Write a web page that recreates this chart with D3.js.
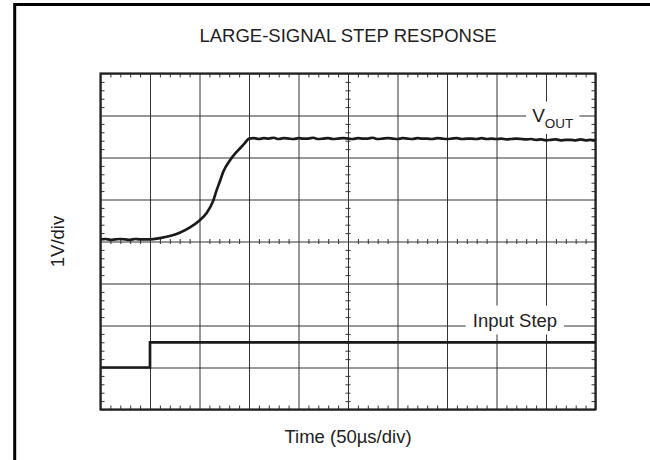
<!DOCTYPE html>
<html>
<head>
<meta charset="utf-8">
<script src="https://cdn.jsdelivr.net/npm/d3@7/dist/d3.min.js"></script>
<style>
  html, body { margin: 0; padding: 0; background: #fff; }
  svg { display: block; }
  text { font-family: "Liberation Sans", Arial, Helvetica, sans-serif; fill: #222; }
</style>
</head>
<body>
<svg id="chart" width="650" height="460"></svg>
<script>
// Text
const chartTitle = "LARGE-SIGNAL STEP RESPONSE";
const xAxisLabel = "Time (50\u00b5s/div)";
const yAxisLabel = "1V/div";
const voutMain = "V";
const voutSub = "OUT";
const inputLabel = "Input Step";

// Scope screen: 10 x 8 divisions, 50 us/div horizontally, 1 V/div vertically
const timeDivisions = [0, 50, 100, 150, 200, 250, 300, 350, 400, 450, 500];
const voltDivisions = [-4, -3, -2, -1, 0, 1, 2, 3, 4];

// VOUT trace (us, V)
const voutTime = [
  0, 5, 10, 15, 20, 25, 30, 35, 40, 45,
  50, 60, 70, 80, 90, 100, 107, 114, 117, 121, 124, 131, 137, 141, 146, 150,
  155, 160, 165, 170, 175, 180, 185, 190, 195, 200,
  205, 210, 215, 220, 225, 230, 235, 240, 245, 250,
  255, 260, 265, 270, 275, 280, 285, 290, 295, 300,
  305, 310, 315, 320, 325, 330, 335, 340, 345, 350,
  355, 360, 365, 370, 375, 380, 385, 390, 395, 400,
  405, 410, 415, 420, 425, 430, 435, 440, 445, 450,
  455, 460, 465, 470, 475, 480, 485, 490, 495, 500
];
const voutVolts = [
  0.05, 0.06, 0.04, 0.05, 0.06, 0.05, 0.04, 0.06, 0.05, 0.05,
  0.05, 0.08, 0.13, 0.21, 0.33, 0.50, 0.67, 0.98, 1.20, 1.46, 1.66, 1.94, 2.12, 2.22, 2.35, 2.45,
  2.46, 2.44, 2.46, 2.45, 2.47, 2.44, 2.46, 2.45, 2.44, 2.46,
  2.45, 2.45, 2.47, 2.44, 2.45, 2.46, 2.44, 2.45, 2.46, 2.45,
  2.44, 2.46, 2.45, 2.45, 2.47, 2.44, 2.45, 2.46, 2.45, 2.44,
  2.46, 2.45, 2.44, 2.46, 2.45, 2.45, 2.44, 2.46, 2.45, 2.44,
  2.45, 2.46, 2.44, 2.45, 2.45, 2.44, 2.46, 2.44, 2.45, 2.44,
  2.45, 2.43, 2.44, 2.45, 2.44, 2.43, 2.44, 2.42, 2.43, 2.41,
  2.42, 2.43, 2.41, 2.42, 2.42, 2.41, 2.43, 2.41, 2.42, 2.41
];

// Input step trace (us, V)
const inputTime = [0, 50, 50, 500];
const inputVolts = [-3.0, -3.0, -2.4, -2.4];

// Layout
const plot = { left: 100.5, top: 73.5, width: 495, height: 336 };

const svg = d3.select("#chart");
svg.append("rect").attr("width", 650).attr("height", 460).attr("fill", "#fff");

// Outer frame (top and left edges)
svg.append("path")
  .attr("d", "M14.7,460 V4.6 H650")
  .attr("fill", "none")
  .attr("stroke", "#000")
  .attr("stroke-width", 3);

const x = d3.scaleLinear().domain([0, 500]).range([0, plot.width]);
const y = d3.scaleLinear().domain([-4, 4]).range([plot.height, 0]);

const g = svg.append("g").attr("transform", `translate(${plot.left},${plot.top})`);

// Minor positions: five per division
const minorTimes = d3.range(0, 501, 10).filter(t => t % 50 !== 0);
const minorVolts = d3.range(-40, 41, 2).map(v => v / 10).filter(v => Math.abs(v % 1) > 1e-6);

function clean(sel) {
  sel.select(".domain").remove();
  sel.selectAll(".tick line").attr("stroke", "#333").attr("stroke-width", 1);
  sel.selectAll(".tick text").remove();
}

// Major grid
g.append("g")
  .attr("transform", `translate(0,${plot.height})`)
  .call(d3.axisBottom(x).tickValues(timeDivisions).tickSize(-plot.height).tickFormat(""))
  .call(clean);
g.append("g")
  .call(d3.axisLeft(y).tickValues(voltDivisions).tickSize(-plot.width).tickFormat(""))
  .call(clean);

// Minor ticks on the frame edges, pointing inward
g.append("g")
  .call(d3.axisTop(x).tickValues(minorTimes).tickSize(-4).tickFormat(""))
  .call(clean);
g.append("g")
  .attr("transform", `translate(0,${plot.height})`)
  .call(d3.axisBottom(x).tickValues(minorTimes).tickSize(-4).tickFormat(""))
  .call(clean);
g.append("g")
  .call(d3.axisLeft(y).tickValues(minorVolts).tickSize(-4).tickFormat(""))
  .call(clean);
g.append("g")
  .attr("transform", `translate(${plot.width},0)`)
  .call(d3.axisRight(y).tickValues(minorVolts).tickSize(-4).tickFormat(""))
  .call(clean);

// Minor ticks crossing the centre lines
g.append("g")
  .attr("transform", `translate(0,${y(0) + 2.5})`)
  .call(d3.axisBottom(x).tickValues(minorTimes).tickSize(-5).tickFormat(""))
  .call(clean);
g.append("g")
  .attr("transform", `translate(${x(250) - 2.5},0)`)
  .call(d3.axisRight(y).tickValues(minorVolts).tickSize(5).tickFormat(""))
  .call(clean);

// Screen border
g.append("rect")
  .attr("width", plot.width).attr("height", plot.height)
  .attr("fill", "none").attr("stroke", "#222").attr("stroke-width", 2.2);

// Trace labels with a white knock-out behind them
function knockoutLabel(build, padX, padY) {
  const lg = g.append("g");
  const bg = lg.append("rect").attr("fill", "#fff");
  const t = build(lg);
  const b = t.node().getBBox();
  bg.attr("x", b.x - padX).attr("y", b.y - padY)
    .attr("width", b.width + 2 * padX).attr("height", b.height + 2 * padY);
  return lg;
}

knockoutLabel(lg => {
  const t = lg.append("text")
    .attr("x", x(435) + 1).attr("y", y(3) + 6)
    .style("font-size", "19px");
  t.append("tspan").text(voutMain);
  t.append("tspan").attr("dy", 6.5).style("font-size", "13.5px").text(voutSub);
  return t;
}, 6, 3);

knockoutLabel(lg => lg.append("text")
  .attr("x", x(375) + 1).attr("y", y(-2) + 1)
  .style("font-size", "18.5px")
  .text(inputLabel), 7, 4);

// Traces
const voutData = voutTime.map((t, i) => [t, voutVolts[i]]);
const inputData = inputTime.map((t, i) => [t, inputVolts[i]]);

g.append("path")
  .datum(voutData)
  .attr("fill", "none")
  .attr("stroke", "#1a1a1a")
  .attr("stroke-width", 2.7)
  .attr("stroke-linejoin", "round")
  .attr("d", d3.line().x(d => x(d[0])).y(d => y(d[1])).curve(d3.curveMonotoneX));

g.append("path")
  .datum(inputData)
  .attr("fill", "none")
  .attr("stroke", "#1a1a1a")
  .attr("stroke-width", 2.7)
  .attr("d", d3.line().x(d => x(d[0])).y(d => y(d[1])));

// Titles
svg.append("text")
  .attr("x", plot.left + plot.width / 2).attr("y", 42)
  .attr("text-anchor", "middle")
  .style("font-size", "18.5px")
  .text(chartTitle);

svg.append("text")
  .attr("x", plot.left + plot.width / 2).attr("y", 443)
  .attr("text-anchor", "middle")
  .style("font-size", "18.5px")
  .text(xAxisLabel);

svg.append("text")
  .attr("transform", `translate(64,${plot.top + plot.height / 2}) rotate(-90)`)
  .attr("text-anchor", "middle")
  .style("font-size", "18.5px")
  .text(yAxisLabel);
</script>
</body>
</html>
